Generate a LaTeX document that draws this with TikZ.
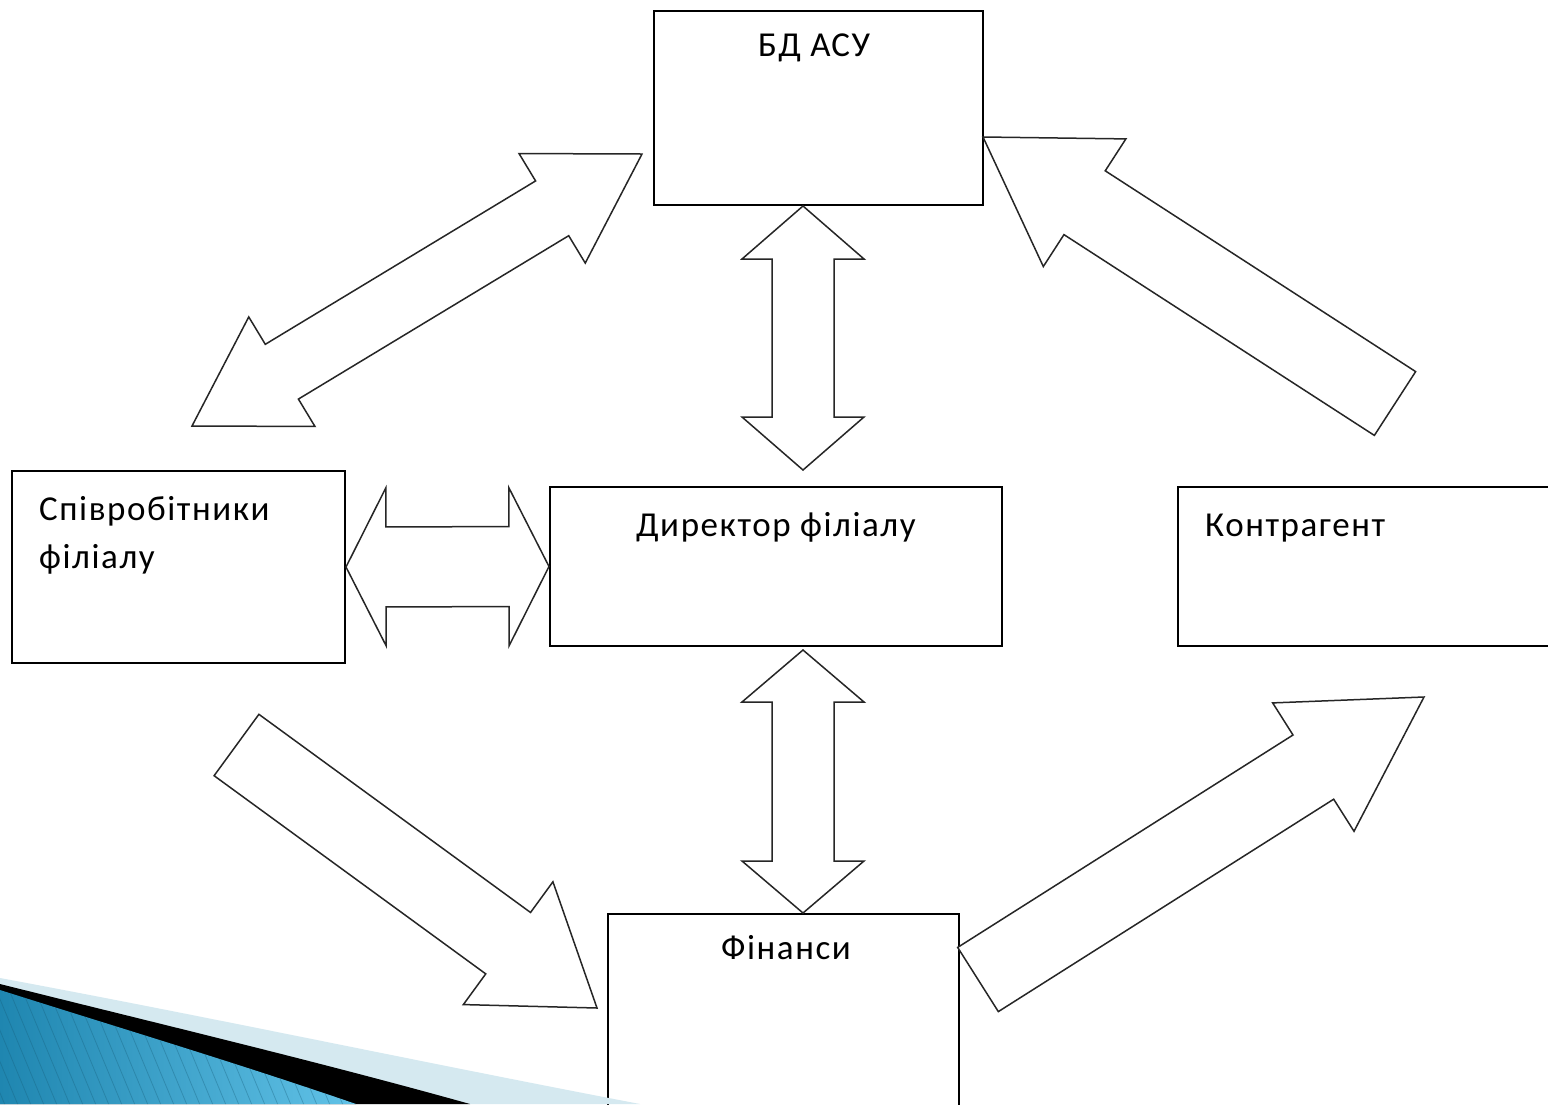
\documentclass[tikz,border=0pt]{standalone}
\usepackage{fontspec}
\setmainfont{Carlito}[LetterSpace=4.5]
\usetikzlibrary{calc,positioning}
\definecolor{swooshlight}{HTML}{D5E9F0}
\definecolor{swooshdark}{HTML}{1F86B0}
\definecolor{swooshbright}{HTML}{62C3E8}
\newcommand{\boxline}{2pt}
\newcommand{\arrowline}{1.5pt}
\tikzset{
  box/.style={draw, line width=\boxline, fill=white, inner sep=0pt},
  lbl/.style={inner sep=0pt, font=\fontsize{35}{42}\selectfont},
  blockarrow/.style={draw=black!85, fill=white, line width=\arrowline, line join=miter},
  stripe/.style={swooshdark!70!black, opacity=0.35, line width=0.8pt}
}
% tail, tip, half shaft, half head, head length
\newcommand{\onearrow}[5]{%
\path ($(#2)!#5!(#1)$) coordinate (hb);
\draw[blockarrow] ($(#1)!#3!90:(#2)$) -- ($(hb)!#3!90:(#2)$) -- ($(hb)!#4!90:(#2)$) -- (#2) -- ($(hb)!#4!-90:(#2)$) -- ($(hb)!#3!-90:(#2)$) -- ($(#1)!#3!-90:(#2)$) -- cycle;
}
% end, end, half shaft, half head, head length
\newcommand{\twoarrow}[5]{%
\path ($(#1)!#5!(#2)$) coordinate (ha) ($(#2)!#5!(#1)$) coordinate (hb);
\draw[blockarrow] (#1) -- ($(ha)!#4!90:(#2)$) -- ($(ha)!#3!90:(#2)$) -- ($(hb)!#3!-90:(#1)$) -- ($(hb)!#4!-90:(#1)$) -- (#2) -- ($(hb)!#4!90:(#1)$) -- ($(hb)!#3!90:(#1)$) -- ($(ha)!#3!-90:(#2)$) -- ($(ha)!#4!-90:(#2)$) -- cycle;
}

\begin{document}
\begin{tikzpicture}[x=1pt, y=-1pt]
\useasboundingbox (0,0) rectangle (1548,1104);
\clip (0,0) rectangle (1548,1104);
\fill[white] (0,0) rectangle (1548,1104);
%boxes
\node[box, minimum width=329pt, minimum height=194pt] (bd) at (818.5,108) {};
\node[box, minimum width=333pt, minimum height=192pt] (spiv) at (178.5,567) {};
\node[box, minimum width=452pt, minimum height=159pt] (dir) at (776,566.5) {};
\node[box, minimum width=382pt, minimum height=159pt] (kontr) at (1369,566.5) {};
\node[box, minimum width=351pt, minimum height=206pt] (fin) at (783.5,1017) {};
%texts
\node[lbl, anchor=base] (bdt) at (814,56) {БД АСУ};
\node[lbl, anchor=base west] (spivt) at (39,520) {Співробітники};
\node[lbl, anchor=base west] (spivt2) at ($(spivt.base west)+(0,48)$) {філіалу};
\node[lbl, anchor=base] (dirt) at (776,536) {Директор філіалу};
\node[lbl, anchor=base west] (kontrt) at (1205,536) {Контрагент};
\node[lbl, anchor=base] (fint) at (786,959) {Фінанси};
%arrow ends
\coordinate (s1) at (192,426);
\coordinate (b1) at (642,154);
\coordinate (b2) at (803,206);
\coordinate (d1) at (803,470);
\coordinate (d2) at (803,650);
\coordinate (f1) at (803,913);
\coordinate (k1) at (1395,403.5);
\coordinate (b3) at (983,137);
\coordinate (s2) at (236.5,745);
\coordinate (f2) at (597,1008);
\coordinate (f3) at (978,979.5);
\coordinate (k2) at (1424,697);
%arrows
\twoarrow{s1}{b1}{32pt}{64pt}{105pt}
\twoarrow{b2}{d1}{31pt}{61pt}{53pt}
\twoarrow{d2}{f1}{31pt}{61pt}{52pt}
\twoarrow{spiv.east}{dir.west}{40pt}{79pt}{40pt}
\onearrow{k1}{b3}{38pt}{76pt}{121pt}
\onearrow{s2}{f2}{38pt}{76pt}{110pt}
\onearrow{f3}{k2}{38pt}{76pt}{131pt}
%swoosh
\fill[swooshlight] (0,978) .. controls (210,1017) and (420,1062) .. (640,1104) -- (0,1104) -- cycle;
\fill[black] (0,984) .. controls (160,1024) and (320,1062) .. (470,1104) -- (0,1104) -- cycle;
\begin{scope}
\clip (0,990) .. controls (120,1028) and (240,1064) .. (356,1104) -- (0,1104) -- cycle;
\fill[left color=swooshdark, right color=swooshbright] (0,980) rectangle (360,1104);
\foreach \i in {-60,-47,...,360}
  \draw[stripe] (\i,980) -- ++(52,125);
\end{scope}
\end{tikzpicture}
\end{document}
